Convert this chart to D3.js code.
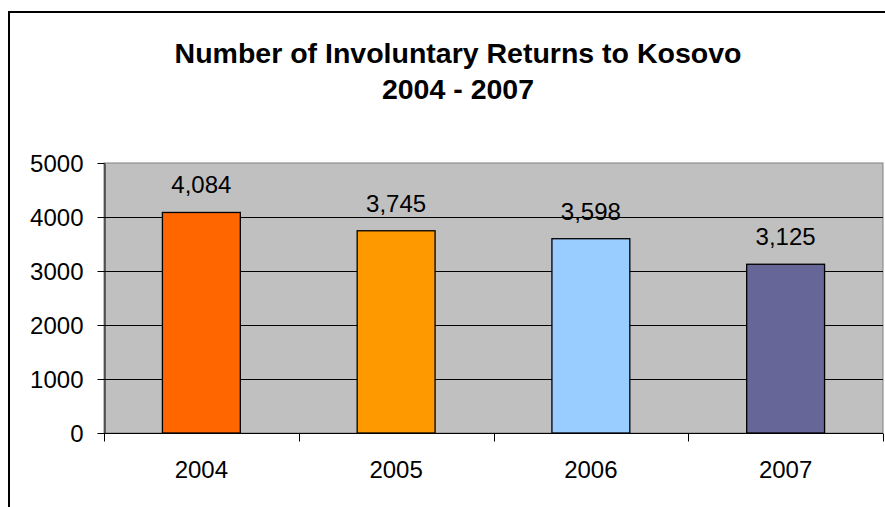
<!DOCTYPE html>
<html>
<head>
<meta charset="utf-8">
<script src="https://cdn.jsdelivr.net/npm/d3@7"></script>
<style>
  body { margin: 0; background: #fff; }
  svg { display: block; font-family: "Liberation Sans", Arial, sans-serif; }
  svg text { font-family: "Liberation Sans", Arial, sans-serif; }
</style>
</head>
<body>
<svg id="mysvg"></svg>
<script>
const years = ["2004", "2005", "2006", "2007"];
const returns = [4084, 3745, 3598, 3125];
const barColors = ["#FF6600", "#FF9900", "#99CCFF", "#666699"];
const yTicks = [0, 1000, 2000, 3000, 4000, 5000];
const titleLines = ["Number of Involuntary Returns to Kosovo", "2004 - 2007"];

const w = 885, h = 507;
const plot = { left: 104, right: 883, top: 163, bottom: 433 };

const svg = d3.select("#mysvg")
    .attr("width", w)
    .attr("height", h);

// outer chart frame (top and left visible)
svg.append("rect")
    .attr("x", 9).attr("y", 12)
    .attr("width", 900).attr("height", 520)
    .attr("fill", "none")
    .attr("stroke", "#000")
    .attr("stroke-width", 2);

// title
svg.append("g").selectAll("text")
    .data(titleLines)
    .enter().append("text")
    .attr("x", 458)
    .attr("y", (d, i) => 63 + i * 36)
    .attr("text-anchor", "middle")
    .style("font-weight", "bold")
    .style("font-size", "28.5px")
    .text(d => d);

const xScale = d3.scaleBand()
    .domain(years)
    .range([plot.left, plot.right])
    .paddingInner(0.6)
    .paddingOuter(0.3);

const xBand = d3.scaleBand()
    .domain(years)
    .range([plot.left, plot.right]);

const yScale = d3.scaleLinear()
    .domain([0, 5000])
    .range([plot.bottom, plot.top]);

// plot area
svg.append("rect")
    .attr("x", plot.left).attr("y", plot.top)
    .attr("width", plot.right - plot.left)
    .attr("height", plot.bottom - plot.top)
    .attr("fill", "#C0C0C0")
    .attr("stroke", "#808080")
    .attr("stroke-width", 1);

// gridlines
svg.append("g").selectAll("line")
    .data(yTicks.filter(d => d > 0 && d < 5000))
    .enter().append("line")
    .attr("x1", plot.left).attr("x2", plot.right)
    .attr("y1", d => Math.round(yScale(d)) + 0.5)
    .attr("y2", d => Math.round(yScale(d)) + 0.5)
    .attr("stroke", "#000")
    .attr("stroke-width", 1);

// bars
svg.append("g").selectAll("rect")
    .data(returns)
    .enter().append("rect")
    .attr("x", (d, i) => xScale(years[i]))
    .attr("y", d => yScale(d))
    .attr("width", xScale.bandwidth())
    .attr("height", d => plot.bottom - yScale(d))
    .attr("fill", (d, i) => barColors[i])
    .attr("stroke", "#000")
    .attr("stroke-width", 1.3);

// value labels
svg.append("g").selectAll("text")
    .data(returns)
    .enter().append("text")
    .attr("x", (d, i) => xScale(years[i]) + xScale.bandwidth() / 2)
    .attr("y", d => yScale(d) - 19)
    .attr("text-anchor", "middle")
    .style("font-size", "24px")
    .text(d => d3.format(",")(d));

// Y axis
const yAxis = svg.append("g")
    .attr("transform", "translate(" + (plot.left + 0.5) + ",0)")
    .call(d3.axisLeft(yScale).tickValues(yTicks).tickFormat(d3.format("d"))
        .tickSize(7).tickPadding(14).tickSizeOuter(0));
yAxis.selectAll("text").style("font-size", "24px").attr("fill", "#000").attr("dy", "0.36em");
yAxis.selectAll("line, path").attr("stroke", "#000");

// X axis
const xAxis = svg.append("g")
    .attr("transform", "translate(0," + (plot.bottom + 0.5) + ")");
xAxis.append("line")
    .attr("x1", plot.left).attr("x2", plot.right)
    .attr("stroke", "#000");
xAxis.selectAll(".tk")
    .data(years.map(d => xBand(d)).concat([plot.right]))
    .enter().append("line")
    .attr("class", "tk")
    .attr("x1", d => Math.round(d) + 0.5).attr("x2", d => Math.round(d) + 0.5)
    .attr("y1", 0).attr("y2", 8)
    .attr("stroke", "#000");
xAxis.selectAll("text")
    .data(years)
    .enter().append("text")
    .attr("x", d => xBand(d) + xBand.bandwidth() / 2)
    .attr("y", 44)
    .attr("text-anchor", "middle")
    .style("font-size", "24px")
    .text(d => d);
</script>
</body>
</html>
